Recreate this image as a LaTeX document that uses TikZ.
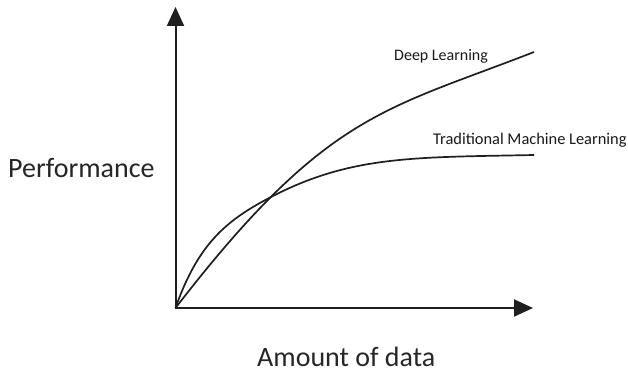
\documentclass[tikz,border=0pt]{standalone}
\usepackage{fontspec}
\setmainfont{Carlito}
\usetikzlibrary{arrows.meta}
\begin{document}
\begin{tikzpicture}[x=1pt,y=-1pt,
  axisline/.style={line width=2pt,color=black!88,-{Triangle[width=17pt,length=19pt]}},
  curveline/.style={line width=1.7pt,color=black!88},
  biglabel/.style={font=\fontsize{28}{32}\selectfont,anchor=base west,inner sep=0pt,text=black!85},
  smalllabel/.style={font=\fontsize{16}{19}\selectfont,anchor=base west,inner sep=0pt,text=black!90}]
\useasboundingbox (0,0) rectangle (628,374);
\fill[white] (0,0) rectangle (628,374);
\coordinate (O) at (175.5,308);
\coordinate (ytip) at (175.5,7);
\coordinate (xtip) at (533,308);
\coordinate (X) at (271,197);
\coordinate (dlend) at (534,52);
\coordinate (tmlend) at (534,155);
\draw[axisline] (175.5,309) -- (ytip);
\draw[axisline] (174.5,308) -- (xtip);
% Deep learning curve
\draw[curveline] (O) .. controls (326,113) and (384,110.5) .. (dlend);
% Traditional machine learning curve
\draw[curveline] (O) .. controls (198,244) and (226,220.4) .. (X)
  .. controls (351,155.4) and (414,157.4) .. (tmlend);
\node[smalllabel] (dl) at (394,61) {Deep Learning};
\node[smalllabel,font=\fontsize{16.4}{19}\selectfont] (tml) at (433,145) {Traditional Machine Learning};
\node[biglabel] (perf) at (8,177) {Performance};
\node[biglabel] (amt) at (257,366) {Amount of data};
\end{tikzpicture}
\end{document}
